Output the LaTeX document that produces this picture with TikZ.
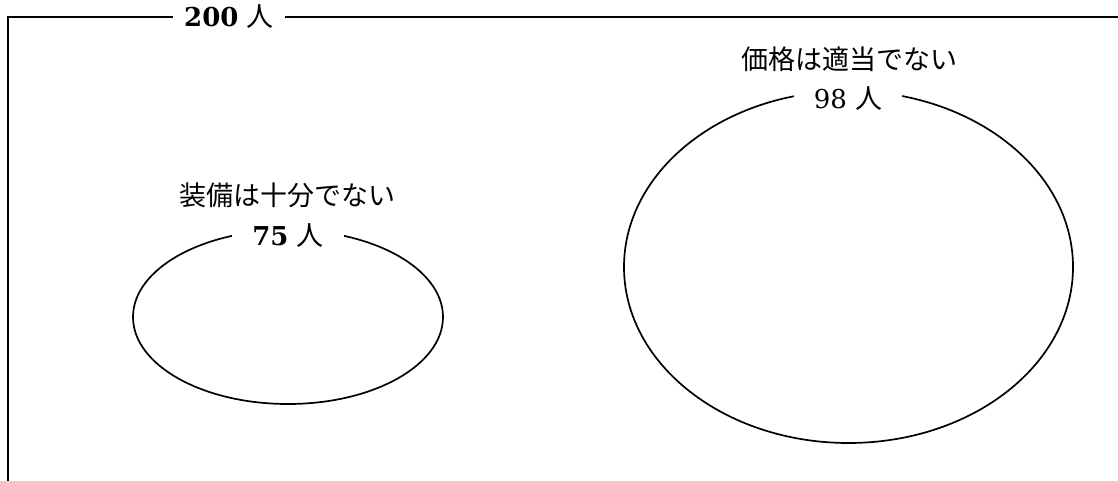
\documentclass[tikz,border=0pt]{standalone}
\usepackage{fontspec}
\usetikzlibrary{shapes.geometric}
\newfontfamily\jp{Noto Sans CJK JP}
\newfontfamily\num{DejaVu Serif}
\tikzset{
  lbl/.style={font=\fontsize{26}{30}\selectfont\num, inner sep=1pt},
  gaplbl/.style={lbl, fill=white, inner xsep=22pt, inner ysep=3pt},
  oval/.style={draw, ellipse, line width=1.7pt, inner sep=0pt},
}
\newcommand\jpt[1]{{\fontsize{27}{30}\selectfont\jp #1}}
\begin{document}
\begin{tikzpicture}[x=1pt,y=-1pt]
\useasboundingbox (0,0) rectangle (1118,480);
\clip (0,0) rectangle (1118,480);
\coordinate (fbl) at (8,520);
\coordinate (ftl) at (8,17);
\coordinate (ftr) at (1160,17);
\draw[line width=1.7pt] (fbl) -- (ftl) -- (ftr);
\node[gaplbl, inner xsep=11pt] (total) at (229,17) {\textbf{200} \jpt{人}};

\node[oval, minimum width=310pt, minimum height=174pt] (ovA) at (288,317) {};
\node[gaplbl, inner xsep=20pt] (nA) at (288,236) {\textbf{75} \jpt{人}};
\node[lbl] (tA) at (287,195) {\jpt{装備は十分でない}};

\node[oval, minimum width=449pt, minimum height=352pt] (ovB) at (848.5,267) {};
\node[gaplbl, inner xsep=20pt] (nB) at (848,99) {98 \jpt{人}};
\node[lbl] (tB) at (849,59) {\jpt{価格は適当でない}};
\end{tikzpicture}
\end{document}
